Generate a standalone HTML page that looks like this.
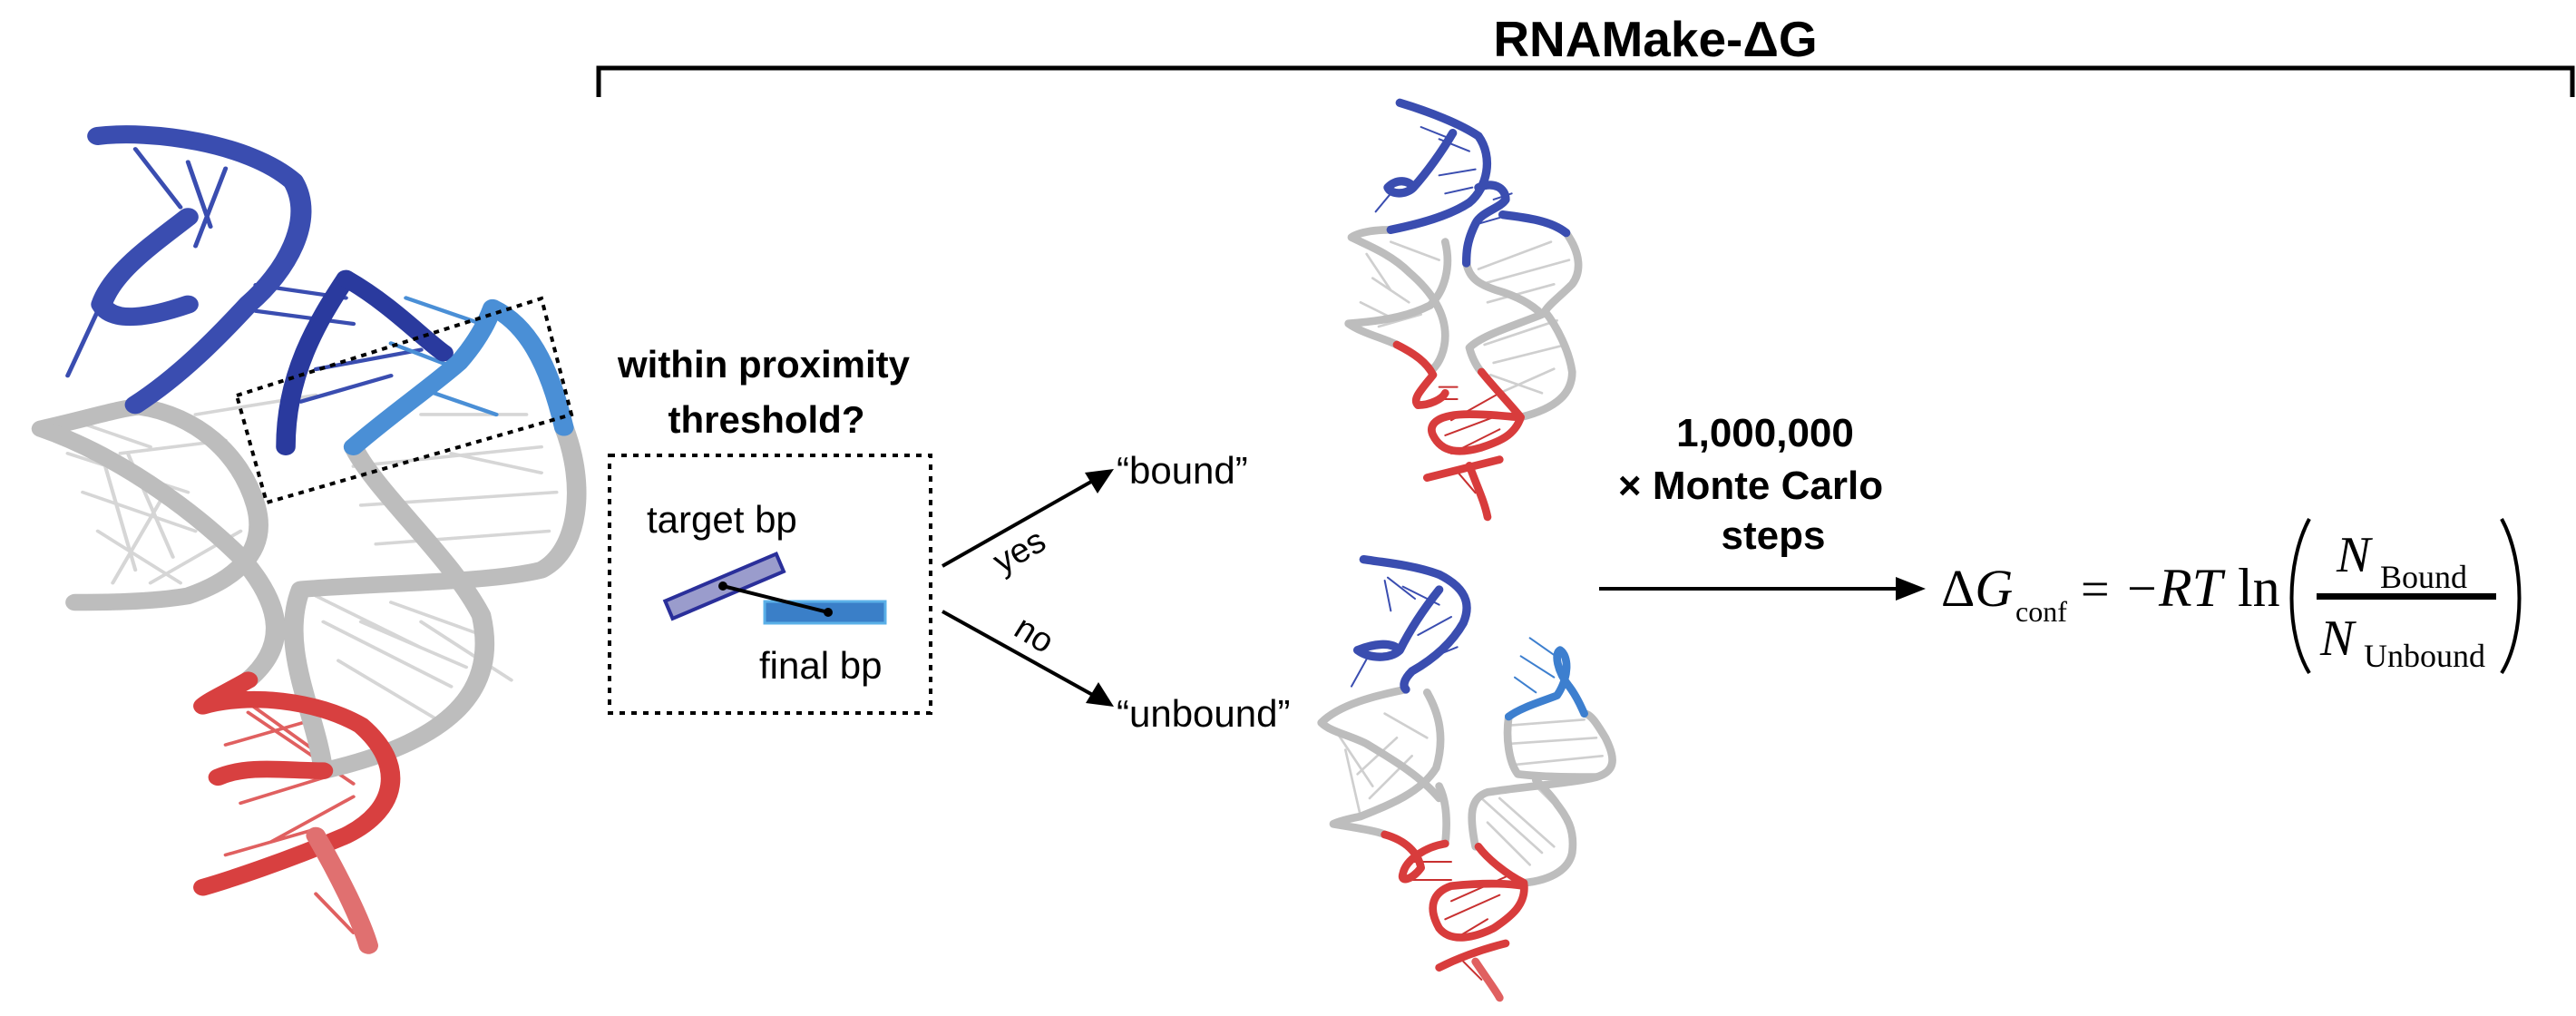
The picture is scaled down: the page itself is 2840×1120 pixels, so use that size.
<!DOCTYPE html>
<html><head><meta charset="utf-8"><style>
html,body{margin:0;padding:0;background:#fff;}
svg{display:block;}
text{font-family:"Liberation Sans",sans-serif;}
.ser{font-family:"Liberation Serif",serif;}
.tb{fill:none;stroke-linecap:round;stroke-linejoin:round;}
</style></head><body>
<svg width="2840" height="1120" viewBox="0 0 2840 1120">

<!-- Left big structure (zoom4 coords) -->
<g transform="scale(0.829,0.714)">
  <g stroke="#d6d6d6" stroke-width="5" class="tb">
    <path d="M90,700 L250,760 M110,760 L260,820 M130,820 L240,900 M160,700 L300,680 M200,900 L320,820 M470,720 L720,690 M480,780 L740,760 M500,840 L730,820 M430,960 L600,1060 M450,1020 L580,1110 M520,930 L640,980 M260,640 L420,610 M560,960 L680,1050 M140,720 L180,880 M170,700 L230,860 M220,760 L150,900 M560,640 L700,640 M600,700 L720,730 M420,920 L560,1000 M480,960 L620,1030 M100,650 L200,690"/>
  </g>
  <g stroke="#3a4db0" stroke-width="6" class="tb">
    <path d="M180,230 L240,320 M250,250 L280,350 M300,260 L260,380 M340,440 L460,460 M340,480 L470,500 M130,480 L90,580 M400,620 L520,580 M420,570 L560,540"/>
  </g>
  <g stroke="#4a8fd6" stroke-width="6" class="tb"><path d="M540,460 L640,500 M560,600 L660,640 M520,530 L610,570"/></g>
  <g stroke="#e06060" stroke-width="5" class="tb">
    <path d="M300,1060 L420,1160 M330,1100 L470,1210 M320,1240 L460,1190 M360,1300 L470,1230 M300,1320 L420,1280 M420,1380 L470,1440 M300,1150 L420,1110"/>
  </g>
  <g class="tb" stroke="#bdbdbd" stroke-width="26">
    <path d="M55,662 C120,645 160,630 185,628 C260,640 320,700 340,780 C360,860 300,900 250,920 C200,930 130,930 100,930"/>
    <path d="M55,662 C150,700 250,780 320,860 C380,940 380,1000 330,1050"/>
    <path d="M750,660 C780,750 770,850 720,880 C650,900 500,900 400,910 C370,1000 420,1100 430,1190"/>
    <path d="M470,690 C500,760 600,860 640,950 C660,1050 620,1140 430,1190"/>
  </g>
  <g class="tb" stroke="#3a4db0" stroke-width="28">
    <path d="M130,210 C200,200 330,220 390,280 C420,340 380,420 330,470 C290,520 240,580 180,625"/>
    <path d="M250,335 C200,380 150,420 135,470 C150,500 200,490 250,470"/>
  </g>
  <g class="tb" stroke="#2a3a9e" stroke-width="26"><path d="M460,430 C420,500 380,580 380,690"/><path d="M460,430 C520,470 560,520 590,545"/></g>
  <g class="tb" stroke="#4a8fd6" stroke-width="26">
    <path d="M470,690 C520,640 570,600 610,560 C640,520 650,490 655,475 C700,500 730,560 750,660"/>
  </g>
  <g class="tb" stroke="#d84040" stroke-width="26">
    <path d="M330,1050 C300,1070 280,1080 270,1090 C330,1070 420,1080 480,1120 C540,1180 530,1250 460,1290 C380,1330 300,1360 270,1370"/>
    <path d="M290,1200 C330,1180 380,1190 430,1190"/>
    <path d="M420,1290 C450,1350 480,1420 490,1460" stroke="#e07070"/>
  </g>
</g>
<polygon points="261,436 597,329 630,457 294,554" fill="none" stroke="#000" stroke-width="4" stroke-dasharray="6 6"/>

<!-- Bracket and title -->
<path d="M660,107 L660,75 L2836,75 L2836,107" fill="none" stroke="#000" stroke-width="5"/>
<text x="1825" y="62" font-size="55" font-weight="bold" text-anchor="middle">RNAMake-ΔG</text>

<!-- Proximity question -->
<text x="842" y="416" font-size="42" font-weight="bold" text-anchor="middle">within proximity</text>
<text x="845" y="477" font-size="42" font-weight="bold" text-anchor="middle">threshold?</text>
<rect x="672" y="502" width="354" height="284" fill="none" stroke="#000" stroke-width="4" stroke-dasharray="6 7"/>
<text x="713" y="587" font-size="42">target bp</text>
<rect x="732" y="636" width="133" height="21" fill="#9a9ccc" stroke="#2a2f9a" stroke-width="4" transform="rotate(-23 798 646)"/>
<rect x="843" y="663" width="133" height="24" fill="#3a7fc8" stroke="#5bb0e8" stroke-width="3"/>
<line x1="797" y1="646" x2="913" y2="675" stroke="#000" stroke-width="4"/>
<circle cx="797" cy="646" r="5" fill="#000"/>
<circle cx="913" cy="675" r="5" fill="#000"/>
<text x="837" y="748" font-size="42">final bp</text>

<!-- yes / no arrows -->
<line x1="1039" y1="624" x2="1210" y2="527" stroke="#000" stroke-width="4"/>
<polygon points="1228,517 1196,521 1210,544" fill="#000"/>
<line x1="1039" y1="674" x2="1210" y2="769" stroke="#000" stroke-width="4"/>
<polygon points="1228,779 1211,752 1197,775" fill="#000"/>
<text x="1124" y="620" font-size="38" text-anchor="middle" transform="rotate(-30 1124 608)">yes</text>
<text x="1140" y="712" font-size="38" text-anchor="middle" transform="rotate(32 1140 700)">no</text>
<text x="1231" y="533" font-size="42">“bound”</text>
<text x="1231" y="801" font-size="42">“unbound”</text>

<!-- Top (bound) structure, zoom6 coords -->
<g transform="translate(1300,80) scale(0.3333)">
  <g class="tb" stroke="#cfcfcf" stroke-width="8">
    <path d="M620,600 L700,720 M640,680 L760,760 M600,760 L720,820 M660,840 L800,800 M700,560 L860,620 M990,650 L1230,560 M1000,700 L1290,620 M1020,760 L1240,700 M1010,900 L1250,820 M1040,960 L1280,900 M1030,1000 L1200,1060 M1060,1060 L1240,980"/>
  </g>
  <g class="tb" stroke="#3a4db0" stroke-width="6">
    <path d="M800,180 L900,220 M860,220 L960,260 M860,340 L980,320 M880,400 L970,380 M650,460 L700,400 M990,500 L1060,480 M1040,420 L1100,400"/>
  </g>
  <g class="tb" stroke="#c83030" stroke-width="6">
    <path d="M860,1040 L920,1040 M840,1080 L920,1080 M900,1150 L1060,1060 M880,1200 L1040,1140 M900,1260 L1060,1180 M920,1320 L980,1390"/>
  </g>
  <g class="tb" stroke="#bdbdbd" stroke-width="26">
    <path d="M700,520 C640,520 590,530 570,545 C620,570 700,600 760,660 C830,720 880,790 880,870 C880,920 860,960 840,980"/>
    <path d="M880,560 C900,640 880,720 830,770 C770,800 700,820 560,830 C600,860 680,880 720,900"/>
    <path d="M950,630 C960,680 990,700 1050,720 C1120,740 1170,770 1200,800 C1100,840 1000,870 960,910 C970,950 990,980 1000,990"/>
    <path d="M1280,530 C1330,600 1330,660 1300,700 C1260,740 1220,770 1210,790 C1250,840 1290,920 1300,990 C1300,1060 1250,1110 1130,1140"/>
  </g>
  <g class="tb" stroke="#3a4db0" stroke-width="28">
    <path d="M730,100 C830,130 930,170 990,210 C1040,280 1020,380 960,430 C900,470 800,500 700,520"/>
    <path d="M690,380 C720,350 760,355 775,380 C750,405 700,405 690,380 M775,380 C820,330 870,260 905,200"/>
    <path d="M990,380 C1040,360 1080,380 1080,420 C1060,450 1000,460 980,500 C950,560 950,600 950,630"/>
    <path d="M1070,470 C1150,480 1230,490 1280,530"/>
  </g>
  <g class="tb" stroke="#d83c3c" stroke-width="26">
    <path d="M720,900 C780,930 820,960 840,1000 C800,1050 770,1080 790,1100 C830,1100 870,1080 880,1060"/>
    <path d="M1000,990 C1040,1040 1080,1080 1130,1140 C1110,1200 1060,1220 1000,1240 C930,1260 870,1260 840,1200 C820,1160 860,1130 960,1130 C1050,1130 1100,1140 1130,1140"/>
    <path d="M820,1340 C900,1320 980,1300 1060,1280"/>
    <path d="M960,1300 C990,1380 1010,1420 1020,1470"/>
  </g>
</g>

<!-- Bottom (unbound) structure, zoom7 coords -->
<g transform="translate(1400,580) scale(0.3333)">
  <g class="tb" stroke="#cfcfcf" stroke-width="8">
    <path d="M220,680 L340,860 M250,740 L300,960 M290,820 L420,700 M330,900 L470,760 M380,620 L520,700 M780,660 L1040,640 M790,720 L1080,700 M800,790 L1100,760 M700,900 L900,1080 M760,900 L940,1060 M720,980 L860,1120 M880,860 L960,940"/>
  </g>
  <g class="tb" stroke="#3a4db0" stroke-width="6">
    <path d="M390,170 L480,240 M440,200 L560,260 M490,360 L600,300 M520,440 L620,400 M270,530 L320,440 M380,180 L400,280"/>
  </g>
  <g class="tb" stroke="#3d7fcf" stroke-width="6"><path d="M860,370 L960,440 M830,430 L940,500 M810,500 L880,550"/></g>
  <g class="tb" stroke="#c83030" stroke-width="6">
    <path d="M450,1110 L600,1110 M460,1170 L600,1170 M600,1240 L780,1160 M580,1300 L760,1220 M620,1360 L720,1300 M640,1440 L700,1500"/>
  </g>
  <g class="tb" stroke="#bdbdbd" stroke-width="26">
    <path d="M450,540 C350,560 230,590 170,650 C200,680 260,690 320,720 C420,780 500,830 560,900"/>
    <path d="M520,550 C560,620 580,700 550,800 C500,880 400,920 300,960 C250,970 220,980 210,985 C300,1000 360,1010 380,1020"/>
    <path d="M560,860 C580,900 590,960 580,1050"/>
    <path d="M790,630 C780,700 790,780 820,820 C900,830 1000,830 1080,830 C1150,810 1140,760 1110,700 C1080,650 1060,620 1040,620"/>
    <path d="M1080,830 C1000,850 850,860 720,880 C660,900 660,960 680,1060"/>
    <path d="M840,1180 C940,1170 990,1130 1000,1080 C1010,1000 980,960 950,920 C930,890 900,860 880,840"/>
  </g>
  <g class="tb" stroke="#3a4db0" stroke-width="28">
    <path d="M310,110 C380,120 480,130 560,160 C640,200 670,250 640,320 C600,390 540,440 470,480 C440,510 440,530 450,540"/>
    <path d="M290,410 C340,390 400,380 430,410 C400,440 330,440 290,410 M430,410 C470,330 520,260 560,210"/>
  </g>
  <g class="tb" stroke="#3d7fcf" stroke-width="26">
    <path d="M790,630 C830,600 900,580 950,560 C990,500 990,430 960,410 C940,420 950,480 990,530 C1020,570 1030,600 1040,620"/>
  </g>
  <g class="tb" stroke="#d83c3c" stroke-width="26">
    <path d="M380,1020 C450,1040 490,1080 500,1130 C470,1170 430,1180 440,1150 C450,1100 520,1060 580,1050"/>
    <path d="M690,1060 C720,1100 780,1150 840,1180 C850,1250 800,1290 740,1330 C680,1360 600,1380 560,1330 C520,1260 540,1210 600,1190 C700,1180 780,1180 840,1190"/>
    <path d="M560,1460 C620,1430 700,1400 780,1380"/>
    <path d="M680,1440 C720,1500 750,1540 760,1560" stroke="#e06060"/>
  </g>
</g>

<!-- Monte Carlo -->
<text x="1946" y="492" font-size="44" font-weight="bold" text-anchor="middle">1,000,000</text>
<text x="1930" y="550" font-size="44" font-weight="bold" text-anchor="middle">× Monte Carlo</text>
<text x="1955" y="605" font-size="44" font-weight="bold" text-anchor="middle">steps</text>
<line x1="1763" y1="649" x2="2095" y2="649" stroke="#000" stroke-width="4"/>
<polygon points="2123,649 2090,636 2090,662" fill="#000"/>

<!-- Equation -->
<g class="ser">
  <text class="ser" x="2140" y="668" font-size="58">Δ<tspan font-style="italic">G</tspan></text>
  <text class="ser" x="2222" y="685" font-size="32">conf</text>
  <text class="ser" x="2294" y="668" font-size="56">=</text>
  <text class="ser" x="2345" y="668" font-size="58">−</text>
  <text class="ser" x="2380" y="668" font-size="60" font-style="italic">RT</text>
  <text class="ser" x="2467" y="668" font-size="60">ln</text>
  <path d="M2546,572 C2520,620 2520,700 2546,742" fill="none" stroke="#000" stroke-width="4"/>
  <path d="M2758,572 C2784,620 2784,700 2758,742" fill="none" stroke="#000" stroke-width="4"/>
  <rect x="2554" y="654" width="198" height="7" fill="#000"/>
  <text class="ser" x="2576" y="630" font-size="56" font-style="italic">N</text>
  <text class="ser" x="2624" y="648" font-size="36">Bound</text>
  <text class="ser" x="2558" y="722" font-size="56" font-style="italic">N</text>
  <text class="ser" x="2606" y="735" font-size="36">Unbound</text>
</g>
</svg>
</body></html>
